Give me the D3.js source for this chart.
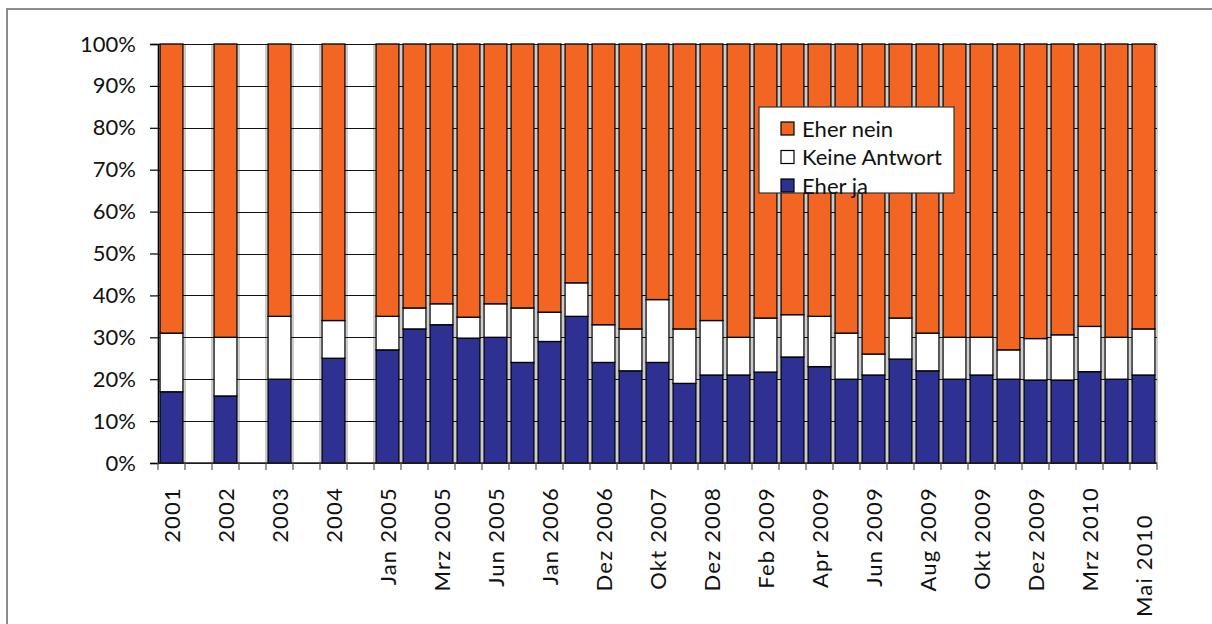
<!DOCTYPE html>
<html>
<head>
<meta charset="utf-8">
<script src="https://cdn.jsdelivr.net/npm/d3@7"></script>
<style>
  html, body { margin: 0; padding: 0; background: #fff; }
  svg { display: block; font-family: Lato, "Open Sans", sans-serif; }
</style>
</head>
<body>
<svg id="chart" width="1212" height="624"></svg>
<script>
// Survey periods (every other category carries a label; blanks are unlabeled or empty slots)
const periods = [
  "2001", "", "2002", "", "2003", "", "2004", "",
  "Jan 2005", "", "Mrz 2005", "", "Jun 2005", "", "Jan 2006", "",
  "Dez 2006", "", "Okt 2007", "", "Dez 2008", "", "Feb 2009", "",
  "Apr 2009", "", "Jun 2009", "", "Aug 2009", "", "Okt 2009", "",
  "Dez 2009", "", "Mrz 2010", "", "Mai 2010\u00a0\u00a0\u00a0\u00a0"
];

// Shares in percent (null = no survey in that slot)
const eherJa = [
  17, null, 16, null, 20, null, 25, null,
  27, 32, 33, 29.8, 30, 24, 29, 35,
  24, 22, 24, 19, 21, 21, 21.7, 25.3,
  23, 20, 21, 24.8, 22, 20, 21, 20,
  19.8, 19.8, 21.8, 20, 21
];
const keineAntwort = [
  14, null, 14, null, 15, null, 9, null,
  8, 5, 5, 5, 8, 13, 7, 8,
  9, 10, 15, 13, 13, 9, 12.9, 10.1,
  12, 11, 5, 9.8, 9, 10, 9, 7,
  9.9, 10.8, 10.8, 10, 11
];
const eherNein = [
  69, null, 70, null, 65, null, 66, null,
  65, 63, 62, 65.2, 62, 63, 64, 57,
  67, 68, 61, 68, 66, 70, 65.4, 64.6,
  65, 69, 74, 65.4, 69, 70, 70, 73,
  70.3, 69.4, 67.4, 70, 68
];

const yTicks = [0, 10, 20, 30, 40, 50, 60, 70, 80, 90, 100];

const seriesKeys = ["ja", "keine", "nein"];
const seriesNames = { ja: "Eher ja", keine: "Keine Antwort", nein: "Eher nein" };
const colors = { ja: "#2e3192", keine: "#ffffff", nein: "#f26522" };

const rows = periods.map((p, i) => ({
  idx: i, label: p,
  has: eherJa[i] !== null,
  ja: eherJa[i] || 0, keine: keineAntwort[i] || 0, nein: eherNein[i] || 0
}));

const svg = d3.select("#chart");

// outer frame
svg.append("rect")
  .attr("x", 7).attr("y", 9).attr("width", 1300).attr("height", 800)
  .attr("fill", "none").attr("stroke", "#8c8c8c").attr("stroke-width", 2);

const m = { left: 158, right: 1157, top: 44, bottom: 463 };

const x = d3.scaleBand()
  .domain(rows.map(d => d.idx))
  .range([m.left, m.right])
  .paddingInner(0.15)
  .paddingOuter(0.075);

const y = d3.scaleLinear().domain([0, 100]).range([m.bottom, m.top]);

// vertical gridlines at category boundaries
const bounds = d3.range(rows.length + 1).map(i => m.left + i * (m.right - m.left) / rows.length);
svg.append("g")
  .selectAll("line").data(bounds).join("line")
  .attr("x1", d => d).attr("x2", d => d)
  .attr("y1", m.top).attr("y2", m.bottom)
  .attr("stroke", "#9a9a9a").attr("stroke-width", 1);

// horizontal gridlines
svg.append("g")
  .selectAll("line").data(yTicks).join("line")
  .attr("x1", m.left).attr("x2", m.right)
  .attr("y1", d => Math.round(y(d)) + 0.5).attr("y2", d => Math.round(y(d)) + 0.5)
  .attr("stroke", "#111").attr("stroke-width", 1.2);

// stacked bars
const stacked = d3.stack().keys(seriesKeys)(rows.filter(r => r.has));
svg.append("g")
  .selectAll("g").data(stacked).join("g")
  .attr("fill", s => colors[s.key])
  .selectAll("rect").data(s => s).join("rect")
  .attr("x", d => x(d.data.idx))
  .attr("width", x.bandwidth())
  .attr("y", d => y(d[1]))
  .attr("height", d => y(d[0]) - y(d[1]))
  .attr("stroke", "#000").attr("stroke-width", 1.3);

// y axis
const yAxis = svg.append("g").attr("transform", `translate(${m.left},0)`)
  .call(d3.axisLeft(y).tickValues(yTicks).tickSize(8).tickPadding(14).tickFormat(d => d + "%"));
yAxis.select(".domain").attr("stroke", "#000").attr("stroke-width", 1.3);
yAxis.selectAll(".tick line").attr("stroke", "#000").attr("stroke-width", 1.2);
yAxis.selectAll(".tick text").attr("font-size", 22).attr("fill", "#111")
  .attr("font-family", "Lato, 'Open Sans', sans-serif");

// x axis line and ticks at category boundaries
svg.append("line")
  .attr("x1", m.left).attr("x2", m.right)
  .attr("y1", m.bottom).attr("y2", m.bottom)
  .attr("stroke", "#222").attr("stroke-width", 1.5);
svg.append("g")
  .selectAll("line").data(bounds).join("line")
  .attr("x1", d => d).attr("x2", d => d)
  .attr("y1", m.bottom).attr("y2", m.bottom + 7)
  .attr("stroke", "#555").attr("stroke-width", 1.2);

// x labels, rotated
svg.append("g")
  .selectAll("text").data(rows.filter(r => r.label !== "")).join("text")
  .attr("transform", d => `translate(${x(d.idx) + x.bandwidth() / 2 + 1},${m.bottom + 24}) rotate(-90)`)
  .attr("text-anchor", "end")
  .attr("dy", "0.36em")
  .attr("font-size", 22)
  .attr("letter-spacing", 1.2)
  .attr("fill", "#111")
  .style("white-space", "pre")
  .text(d => d.label);

// legend
const lg = svg.append("g").attr("transform", "translate(759,107)");
lg.append("rect").attr("width", 195).attr("height", 86)
  .attr("fill", "#fff").attr("stroke", "#333").attr("stroke-width", 1.2);
const legendOrder = ["nein", "keine", "ja"];
const li = lg.selectAll("g").data(legendOrder).join("g")
  .attr("transform", (d, i) => `translate(22,${15 + i * 28.5})`);
li.append("rect").attr("width", 13).attr("height", 13)
  .attr("fill", d => colors[d]).attr("stroke", "#000").attr("stroke-width", 1.2);
li.append("text").attr("x", 21).attr("y", 7).attr("dy", "0.35em")
  .attr("font-size", 22).attr("fill", "#111")
  .text(d => seriesNames[d]);
</script>
</body>
</html>
